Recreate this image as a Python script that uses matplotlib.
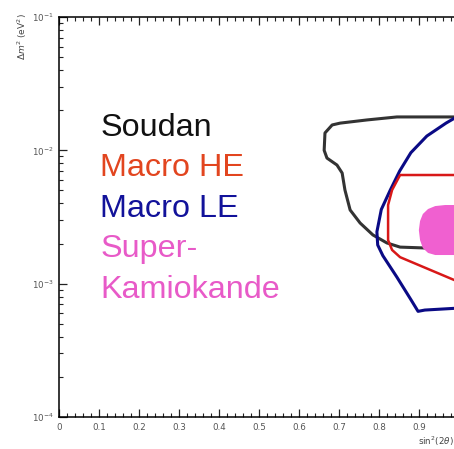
import matplotlib
matplotlib.use("Agg")
import matplotlib.pyplot as plt
from matplotlib.ticker import MultipleLocator, LogLocator

# contour data: sin^2(2theta), delta m^2 (eV^2)
soudan_x = [1.0, 0.845, 0.770, 0.703, 0.683, 0.665, 0.663, 0.670, 0.695, 0.708, 0.715, 0.728,
            0.753, 0.785, 0.820, 0.853, 0.920]
soudan_y = [1.78e-2, 1.78e-2, 1.69e-2, 1.60e-2, 1.55e-2, 1.35e-2, 1.00e-2, 8.75e-3, 7.76e-3, 6.76e-3,
            5.04e-3, 3.57e-3, 2.85e-3, 2.32e-3, 2.02e-3, 1.88e-3, 1.85e-3]

macro_le_x = [1.0, 0.968, 0.920, 0.880, 0.852, 0.828, 0.806, 0.795, 0.797, 0.810, 0.845, 0.880, 0.898, 0.915, 1.0]
macro_le_y = [1.82e-2, 1.60e-2, 1.28e-2, 9.6e-3, 7.0e-3, 5.0e-3, 3.6e-3, 2.45e-3, 1.95e-3, 1.62e-3, 1.12e-3, 7.6e-4, 6.2e-4, 6.34e-4, 6.56e-4]

macro_he_x = [1.0, 0.853, 0.833, 0.823, 0.823, 0.833, 0.853, 0.928, 1.0]
macro_he_y = [6.53e-3, 6.53e-3, 5.04e-3, 3.89e-3, 2.12e-3, 1.79e-3, 1.58e-3, 1.27e-3, 1.03e-3]

superk_x = [1.0, 0.966, 0.941, 0.923, 0.910, 0.903, 0.900, 0.903, 0.910, 0.923, 0.941, 1.0]
superk_y = [3.89e-3, 3.89e-3, 3.82e-3, 3.63e-3, 3.33e-3, 2.95e-3, 2.52e-3, 2.12e-3, 1.85e-3, 1.70e-3, 1.64e-3, 1.64e-3]

legend_labels = ["Soudan", "Macro HE", "Macro LE", "Super-", "Kamiokande"]
legend_colors = ["#111111", "#e2451f", "#12129a", "#e85ac8", "#e85ac8"]

fig = plt.figure(figsize=(4.54, 4.49), dpi=100)
ax = fig.add_axes([59.3 / 454, 1 - 417 / 449, 399.5 / 454, 400 / 449])

ax.fill(superk_x, superk_y, color="#f060d0", lw=0, zorder=4)
ax.plot(soudan_x, soudan_y, color="#333333", lw=2.2, zorder=3, solid_joinstyle="round")
ax.plot(macro_le_x, macro_le_y, color="#0a0a85", lw=2.2, zorder=5, solid_joinstyle="round")
ax.plot(macro_he_x, macro_he_y, color="#d81818", lw=1.8, zorder=5, solid_joinstyle="round")

ax.set_yscale("log")
ax.set_xlim(0, 1.0)
ax.set_ylim(1e-4, 1e-1)

ax.xaxis.set_major_locator(MultipleLocator(0.1))
ax.xaxis.set_minor_locator(MultipleLocator(0.02))
ax.yaxis.set_major_locator(LogLocator(base=10))
ax.yaxis.set_minor_locator(LogLocator(base=10, subs=range(2, 10)))
ax.set_xticks([0, 0.1, 0.2, 0.3, 0.4, 0.5, 0.6, 0.7, 0.8, 0.9])
ax.set_xticklabels(["0", "0.1", "0.2", "0.3", "0.4", "0.5", "0.6", "0.7", "0.8", "0.9"])

ax.tick_params(which="both", direction="in", top=True, right=False, colors="#222222",
               labelcolor="#555555", labelsize=6.3)
ax.tick_params(which="major", length=6, width=0.9, pad=4)
ax.tick_params(which="minor", length=3, width=0.8)
for s in ax.spines.values():
    s.set_linewidth(1.1)

# legend as coloured text
for i, (lab, col) in enumerate(zip(legend_labels, legend_colors)):
    ax.text(0.102, 1 - (136 + 40.5 * i - 17) / 400, lab, color=col, fontsize=23.3,
            family="Liberation Sans", transform=ax.transAxes, va="baseline", ha="left")

fig.text(22 / 454, 1 - 37 / 449, r"$\Delta m^2$ (eV$^2$)", rotation=90, fontsize=6.5,
         color="#444444", ha="center", va="center")
fig.text(418 / 454, 1 - 441 / 449, r"sin$^2$(2$\theta$)", fontsize=6.3, color="#444444",
         ha="left", va="center")

fig.savefig("out.png", dpi=100, facecolor="white")
